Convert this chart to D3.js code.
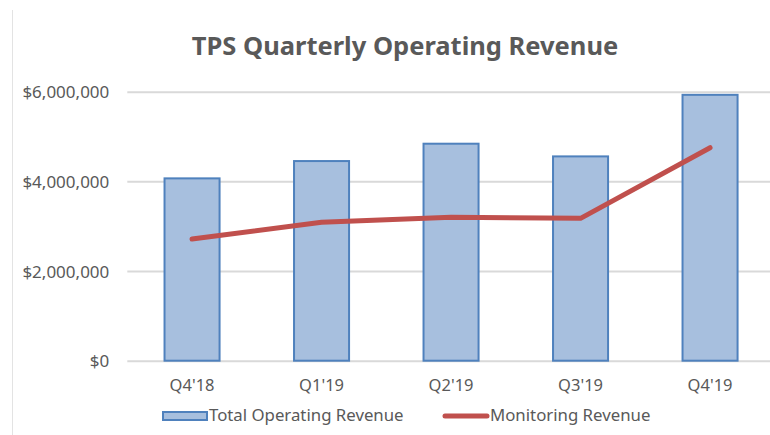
<!DOCTYPE html>
<html>
<head>
<meta charset="utf-8">
<script src="https://cdn.jsdelivr.net/npm/d3@7"></script>
<style>
  body { margin: 0; background: #fff; }
  svg { display: block; font-family: 'Noto Sans', 'Open Sans', sans-serif; }
</style>
</head>
<body>
<div id="chart"></div>
<script>
// Data
const quarters = ["Q4'18", "Q1'19", "Q2'19", "Q3'19", "Q4'19"];
const totalRevenue = [4067000, 4453000, 4840000, 4557000, 5930000];
const monitoringRevenue = [2713000, 3086000, 3197000, 3175000, 4750000];
const yTicks = [0, 2000000, 4000000, 6000000];

const width = 770;
const height = 435;
const font = "'Noto Sans', 'Open Sans', sans-serif";

const svg = d3
  .select('#chart')
  .append('svg')
  .attr('width', width)
  .attr('height', height);

// chart frame (left edge only visible)
svg.append('line')
  .attr('x1', 12.5).attr('x2', 12.5)
  .attr('y1', 10).attr('y2', height)
  .attr('stroke', '#e3e3e3');

// scales
const xScale = d3.scaleBand()
  .domain(quarters)
  .range([127.3, 774.8])
  .paddingInner(0.575)
  .paddingOuter(0.2875);

const yScale = d3.scaleLinear()
  .domain([0, 6000000])
  .range([360.7, 91.7]);

// gridlines + y labels
const yAxis = d3.axisLeft(yScale)
  .tickValues(yTicks)
  .tickSize(-(width - 127.3))
  .tickPadding(18)
  .tickFormat((d) => '$' + d3.format(',')(d));

svg.append('g')
  .attr('transform', 'translate(127.3,0)')
  .call(yAxis)
  .attr('font-family', font)
  .attr('font-size', 17)
  .call((g) => g.select('.domain').remove())
  .call((g) => g.selectAll('.tick line').attr('stroke', '#d9d9d9').attr('stroke-width', 2))
  .call((g) => g.selectAll('.tick text')
    .attr('fill', '#595959')
    .attr('dy', '0.36em'));

// bars
svg.append('g')
  .selectAll('rect')
  .data(quarters)
  .join('rect')
  .attr('x', (d) => xScale(d))
  .attr('y', (d, i) => yScale(totalRevenue[i]))
  .attr('width', xScale.bandwidth())
  .attr('height', (d, i) => yScale(0) - yScale(totalRevenue[i]))
  .attr('fill', '#a7bfde')
  .attr('stroke', '#4f81bd')
  .attr('stroke-width', 2);

// x labels
const xAxis = d3.axisBottom(xScale).tickSize(0).tickPadding(19);
svg.append('g')
  .attr('transform', `translate(0, ${yScale(0)})`)
  .call(xAxis)
  .attr('font-family', font)
  .attr('font-size', 16.5)
  .call((g) => g.select('.domain').remove())
  .call((g) => g.selectAll('.tick text').attr('fill', '#595959'));

// monitoring line
const line = d3.line()
  .x((d, i) => xScale(quarters[i]) + xScale.bandwidth() / 2)
  .y((d) => yScale(d));

svg.append('path')
  .datum(monitoringRevenue)
  .attr('d', line)
  .attr('fill', 'none')
  .attr('stroke', '#c0504d')
  .attr('stroke-width', 5)
  .attr('stroke-linecap', 'round')
  .attr('stroke-linejoin', 'round');

// title
svg.append('text')
  .attr('x', 405)
  .attr('y', 55)
  .attr('text-anchor', 'middle')
  .attr('fill', '#595959')
  .style('font-size', '25.5px')
  .style('font-weight', 'bold')
  .text('TPS Quarterly Operating Revenue');

// legend
const legend = svg.append('g').style('font-size', '16.8px').attr('fill', '#595959');
legend.append('rect')
  .attr('x', 163).attr('y', 412)
  .attr('width', 44).attr('height', 8)
  .attr('fill', '#a7bfde')
  .attr('stroke', '#4f81bd')
  .attr('stroke-width', 2);
legend.append('text').attr('x', 209).attr('y', 421).text('Total Operating Revenue');
legend.append('line')
  .attr('x1', 445).attr('x2', 487)
  .attr('y1', 416).attr('y2', 416)
  .attr('stroke', '#c0504d')
  .attr('stroke-width', 5)
  .attr('stroke-linecap', 'round');
legend.append('text').attr('x', 490).attr('y', 421).text('Monitoring Revenue');
</script>
</body>
</html>
